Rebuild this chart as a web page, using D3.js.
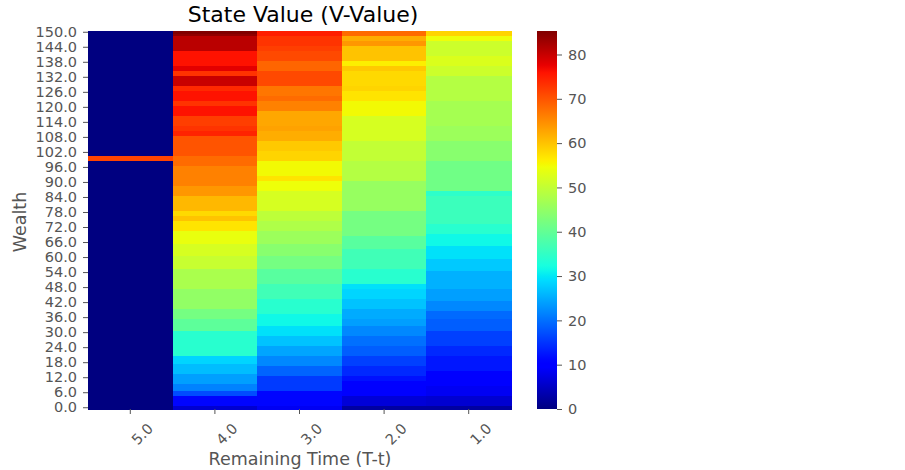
<!DOCTYPE html>
<html>
<head>
<meta charset="utf-8">
<script src="https://cdn.jsdelivr.net/npm/d3@7"></script>
<style>
  body { margin: 0; background: #fff; }
  text { font-family: "DejaVu Sans", sans-serif; }
</style>
</head>
<body>
<div id="chart"></div>
<script>
// wealth grid, top row first (150 ... 0)
const wealthLevels = d3.range(150, -1, -1);
const timeLabels = ["5.0", "4.0", "3.0", "2.0", "1.0"];
const cbarTicks = [0, 10, 20, 30, 40, 50, 60, 70, 80];

// V-values per remaining time, listed from wealth 150 down to 0
const vT5 = [
    0, 0, 0, 0, 0, 0, 0, 0, 0, 0,
    0, 0, 0, 0, 0, 0, 0, 0, 0, 0,
    0, 0, 0, 0, 0, 0, 0, 0, 0, 0,
    0, 0, 0, 0, 0, 0, 0, 0, 0, 0,
    0, 0, 0, 0, 0, 0, 0, 0, 0, 0,   // 150-101
    71.5, 71.5,                      // 100-99
    0, 0, 0, 0, 0, 0, 0, 0, 0, 0,
    0, 0, 0, 0, 0, 0, 0, 0, 0, 0,
    0, 0, 0, 0, 0, 0, 0, 0, 0, 0,
    0, 0, 0, 0, 0, 0, 0, 0, 0, 0,
    0, 0, 0, 0, 0, 0, 0, 0, 0, 0,
    0, 0, 0, 0, 0, 0, 0, 0, 0, 0,
    0, 0, 0, 0, 0, 0, 0, 0, 0, 0,
    0, 0, 0, 0, 0, 0, 0, 0, 0, 0,
    0, 0, 0, 0, 0, 0, 0, 0, 0, 0,
    0, 0, 0, 0, 0, 0, 0, 0, 0        // 98-0
];
const vT4 = [
    85.3, 84,
    81, 81, 81, 81, 81, 81,
    76, 76, 76, 76, 76, 76,
    78, 78, 73, 73,
    80, 80, 80, 80,
    74, 74, 76, 76, 76, 76,
    73, 73, 76, 76, 76, 76,
    72, 72, 72, 72, 73, 73, 74.5, 74.5,
    70, 70, 70, 70, 70, 70, 70, 70,
    68, 68, 68, 68,
    66, 66, 66, 66, 66, 66, 66, 66,
    64, 64, 64, 64,
    61, 61, 61, 61, 61, 61,
    58, 58, 60, 60, 57, 57, 57, 57,
    54, 54, 54, 54, 54,
    52, 52, 52, 52, 52,
    50.5, 50.5, 50.5, 50.5, 50.5,
    47.5, 47.5, 47.5, 47.5, 47.5, 47.5, 47.5, 47.5,
    45, 45, 45, 45, 45, 45, 45, 45,
    42, 42, 42, 42,
    39.5, 39.5, 39.5, 39.5, 39.5,
    34, 34, 34, 34, 34, 34, 34, 34, 34, 34,
    28.5, 28.5, 28.5,
    26.5, 26.5, 26.5, 26.5,
    24, 24, 24, 24,
    21.5, 21.5, 21.5,
    17, 17,
    11, 11, 11, 11,
    6
];
const vT3 = [
    75, 75,
    73, 73, 73, 73, 72, 72,
    71, 71, 71, 71,
    68.5, 68.5, 68.5, 68.5,
    71, 71, 71, 71, 71, 71,
    67, 67, 67, 67,
    68, 68,
    66, 66, 66, 66,
    62.5, 62.5, 62.5, 62.5, 62.5, 62.5,
    63, 63, 62, 62, 62, 62,
    59.5, 59.5, 59.5, 59.5, 58.5, 58.5, 58.5, 58.5,
    55, 55, 55, 55, 55, 55,
    57, 57,
    54.5, 54.5, 54.5, 54.5,
    52, 52, 52, 52, 52, 52, 52, 52,
    49.5, 49.5, 49.5, 49.5,
    48, 48, 48, 48,
    46, 46, 46, 46, 46,
    44, 44, 44, 44, 44,
    42, 42, 42, 42, 42,
    39, 39, 39, 39, 39, 39,
    36.5, 36.5, 36.5, 36.5, 36.5, 36.5,
    34, 34, 34, 34, 34, 34,
    31.5, 31.5, 31.5, 31.5, 31.5,
    29.5, 29.5, 29.5, 29.5,
    27, 27, 27, 27,
    24.5, 24.5, 24.5, 24.5,
    22, 22, 22, 22,
    19, 19, 19, 19,
    15.5, 15.5, 15.5, 15.5, 15.5, 15.5,
    11, 11, 11, 11, 11, 11,
    8.5
];
const vT2 = [
    68, 68, 62, 62, 64, 64,
    60, 60, 60, 60, 60, 60,
    56, 56, 59.5, 59.5,
    58, 58, 58, 58, 58, 58,
    58.5, 58.5,
    57, 57, 57, 57,
    55, 55, 55, 55, 55, 55,
    52, 52, 52, 52, 52, 52, 52, 52, 52, 52,
    50, 50, 50, 50, 50, 50, 50, 50,
    48.5, 48.5, 48.5, 48.5, 48.5, 48.5, 48.5, 48.5,
    45.5, 45.5, 45.5, 45.5, 45.5, 45.5, 45.5, 45.5, 45.5, 45.5, 45.5, 45.5,
    42, 42, 42, 42, 42, 42, 42, 42, 42, 42,
    39, 39, 39, 39, 39,
    36.5, 36.5, 36.5, 36.5, 36.5, 36.5, 36.5, 36.5,
    34, 34, 34, 34, 34, 34,
    29.5, 29.5,
    28.5, 28.5, 28.5, 28.5,
    27, 27, 27, 27,
    25, 25, 25, 25,
    24, 24, 24,
    22, 22, 22, 22,
    20, 20, 20, 20,
    18.5, 18.5, 18.5, 18.5,
    16, 16, 16, 16,
    14, 14, 14, 14,
    12, 12,
    9.5, 9.5, 9.5, 9.5, 9.5, 9.5,
    6.5, 6.5, 6.5, 6.5,
    2.5
];
const vT1 = [
    58.5, 58.5, 54.5, 54.5,
    51, 51, 51, 51, 51, 51,
    52.5, 52.5, 52.5, 52.5,
    51, 51, 51, 51,
    48.5, 48.5, 48.5, 48.5, 48.5, 48.5, 48.5, 48.5, 48.5, 48.5,
    47, 47, 47, 47, 47, 47, 47, 47, 47, 47,
    46, 46, 46, 46, 46, 46,
    44, 44, 44, 44, 44, 44, 44, 44,
    41.5, 41.5, 41.5, 41.5, 41.5, 41.5, 41.5, 41.5, 41.5, 41.5, 41.5, 41.5,
    34.5, 34.5,
    36, 36, 36, 36, 36, 36, 36, 36, 36, 36, 36,
    34, 34, 34, 34,
    31.5, 31.5, 31.5, 31.5, 31.5,
    29.5, 29.5, 29.5, 29.5, 29.5,
    27.5, 27.5, 27.5, 27.5, 27.5,
    25.5, 25.5, 25.5, 25.5, 25.5, 25.5, 25.5,
    24, 24, 24, 24, 24,
    22, 22, 22, 22,
    19.5, 19.5, 19.5,
    18.5, 18.5, 18.5, 18.5, 18.5,
    16, 16, 16, 16, 16, 16,
    14, 14, 14, 14,
    12.5, 12.5, 12.5, 12.5, 12.5, 12.5,
    10.5, 10.5, 10.5, 10.5, 10.5, 10.5,
    8.5, 8.5, 8.5, 8.5,
    6, 6, 6, 6,
    2.5
];

const columns = [vT5, vT4, vT3, vT2, vT1];
columns.forEach((c, i) => { if (c.length !== wealthLevels.length) throw new Error("bad length " + timeLabels[i] + " " + c.length); });

// matplotlib "jet" colormap, piecewise linear per channel
const jetR = d3.scaleLinear().domain([0, 0.35, 0.66, 0.89, 1]).range([0, 0, 1, 1, 0.5]).clamp(true);
const jetG = d3.scaleLinear().domain([0, 0.125, 0.375, 0.64, 0.91, 1]).range([0, 0, 1, 1, 0, 0]).clamp(true);
const jetB = d3.scaleLinear().domain([0, 0.11, 0.34, 0.65, 1]).range([0.5, 1, 1, 0, 0]).clamp(true);
const jet = t => d3.rgb(jetR(t) * 255, jetG(t) * 255, jetB(t) * 255).toString();

const vmax = d3.max(columns, c => d3.max(c));
const color = v => jet(v / vmax);

const svg = d3.select("#chart").append("svg").attr("width", 905).attr("height", 470);

const plotLeft = 88, plotRight = 511, plotTop = 31, plotBottom = 409;
let x = d3.scaleBand().domain(timeLabels).range([plotLeft, plotRight]);
let y = d3.scaleBand().domain(wealthLevels).range([plotTop, plotBottom]);

let cells = [];
columns.forEach((col, i) => {
    col.forEach((v, j) => {
        cells.push({ t: timeLabels[i], w: wealthLevels[j], v: v });
    });
});

svg.append("g").attr("shape-rendering", "crispEdges")
    .selectAll("rect").data(cells).enter().append("rect")
    .attr("x", d => x(d.t))
    .attr("y", d => y(d.w))
    .attr("width", x.bandwidth() + 0.5)
    .attr("height", y.bandwidth() + 0.5)
    .attr("fill", d => color(d.v));

const tickColor = "#555";
const tickFont = "14.5px";

// y axis
let gy = svg.append("g").attr("transform", `translate(${plotLeft},0)`)
    .call(d3.axisLeft(y)
        .tickValues(wealthLevels.filter(w => w % 6 === 0))
        .tickFormat(d => d.toFixed(1))
        .tickSize(5).tickPadding(6));
gy.select(".domain").remove();
gy.selectAll("line").attr("stroke", tickColor);
gy.selectAll("text").attr("fill", tickColor).attr("font-size", tickFont).attr("font-family", "DejaVu Sans");

// x axis
let gx = svg.append("g").attr("transform", `translate(0,${plotBottom})`)
    .call(d3.axisBottom(x).tickSize(5));
gx.select(".domain").remove();
gx.selectAll("line").attr("stroke", tickColor);
gx.selectAll("text")
    .attr("fill", tickColor).attr("font-size", tickFont).attr("font-family", "DejaVu Sans")
    .attr("x", 0).attr("y", 0).attr("dy", "0.35em")
    .attr("text-anchor", "middle")
    .attr("transform", "translate(12,25) rotate(-45)");

// labels
svg.append("text").attr("x", 303).attr("y", 22).attr("text-anchor", "middle")
    .attr("font-size", "22px").attr("fill", "#000").text("State Value (V-Value)");
svg.append("text").attr("x", 300).attr("y", 465).attr("text-anchor", "middle")
    .attr("font-size", "17.5px").attr("fill", tickColor).text("Remaining Time (T-t)");
svg.append("text").attr("transform", "translate(26,222) rotate(-90)").attr("text-anchor", "middle")
    .attr("font-size", "17.5px").attr("fill", tickColor).text("Wealth");

// colorbar
const cbX = 537, cbW = 20;
let cbScale = d3.scaleLinear().domain([0, vmax]).range([plotBottom, plotTop]);
let grad = svg.append("defs").append("linearGradient").attr("id", "jetgrad")
    .attr("x1", 0).attr("y1", 1).attr("x2", 0).attr("y2", 0);
d3.range(0, 1.0001, 0.01).forEach(t => {
    grad.append("stop").attr("offset", t).attr("stop-color", jet(t));
});
svg.append("rect").attr("x", cbX).attr("y", plotTop).attr("width", cbW).attr("height", plotBottom - plotTop)
    .attr("fill", "url(#jetgrad)");
let gc = svg.append("g").attr("transform", `translate(${cbX + cbW},0)`)
    .call(d3.axisRight(cbScale).tickValues(cbarTicks).tickSize(5).tickPadding(6));
gc.select(".domain").remove();
gc.selectAll("line").attr("stroke", tickColor);
gc.selectAll("text").attr("fill", tickColor).attr("font-size", tickFont).attr("font-family", "DejaVu Sans");
</script>
</body>
</html>
